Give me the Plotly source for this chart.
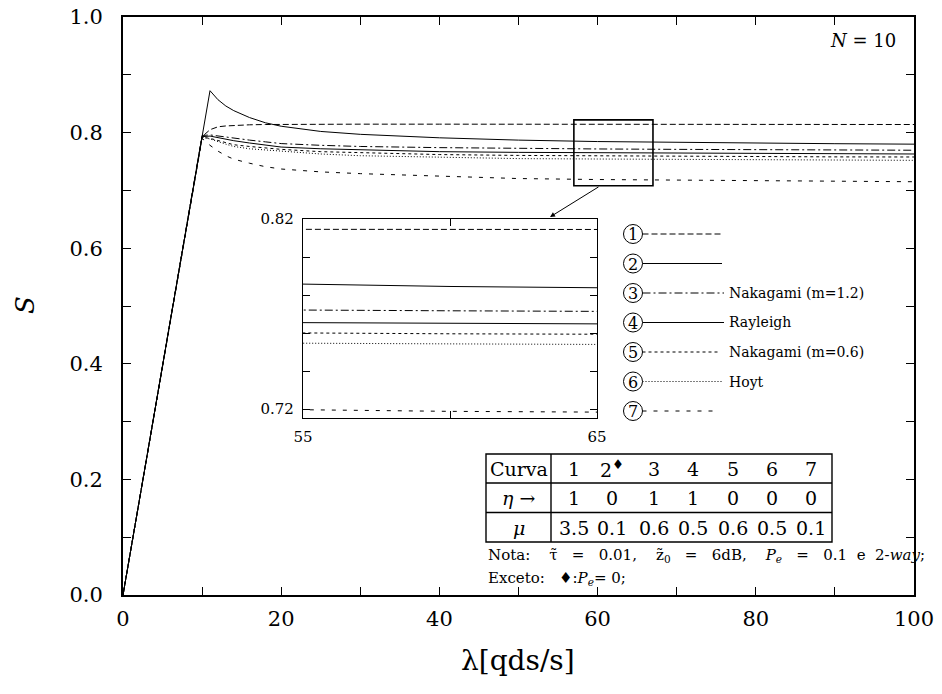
import plotly.graph_objects as go

# ---------------- data ----------------
lam = [0, 10, 11, 12, 13, 14, 16, 18, 20, 25, 30, 40, 50, 60, 70, 80, 90, 100]

s_c1 = [0, 0.793, 0.805, 0.810, 0.8115, 0.8125, 0.8135, 0.814, 0.8143, 0.8145, 0.8146, 0.8146, 0.8146, 0.8146, 0.8146, 0.8145, 0.8143, 0.814]
s_c2 = [0, 0.793, 0.8725, 0.857, 0.846, 0.838, 0.826, 0.817, 0.811, 0.802, 0.797, 0.791, 0.787, 0.7845, 0.783, 0.7818, 0.7808, 0.780]
s_c3 = [0, 0.795, 0.796, 0.794, 0.792, 0.790, 0.787, 0.784, 0.781, 0.778, 0.776, 0.774, 0.7725, 0.7717, 0.771, 0.7705, 0.770, 0.7695]
s_c4 = [0, 0.793, 0.794, 0.791, 0.788, 0.786, 0.782, 0.778, 0.775, 0.772, 0.770, 0.767, 0.7658, 0.765, 0.7645, 0.764, 0.7635, 0.763]
s_c5 = [0, 0.792, 0.790, 0.786, 0.782, 0.779, 0.776, 0.773, 0.771, 0.767, 0.765, 0.762, 0.7605, 0.7596, 0.759, 0.7585, 0.758, 0.7578]
s_c6 = [0, 0.792, 0.789, 0.784, 0.780, 0.776, 0.772, 0.770, 0.768, 0.763, 0.760, 0.757, 0.755, 0.7543, 0.7535, 0.753, 0.7525, 0.752]
s_c7 = [0, 0.790, 0.778, 0.768, 0.760, 0.754, 0.747, 0.741, 0.737, 0.732, 0.729, 0.725, 0.7205, 0.7188, 0.718, 0.717, 0.716, 0.715]

curves = [s_c1, s_c2, s_c3, s_c4, s_c5, s_c6, s_c7]
curve_ids = ["1", "2", "3", "4", "5", "6", "7"]
legend_labels = ["", "", "Nakagami (m=1.2)", "Rayleigh", "Nakagami (m=0.6)", "Hoyt", ""]

x_tick_vals = [0, 10, 20, 30, 40, 50, 60, 70, 80, 90, 100]
x_tick_text = ["0", "", "20", "", "40", "", "60", "", "80", "", "100"]
y_tick_vals = [0.0, 0.1, 0.2, 0.3, 0.4, 0.5, 0.6, 0.7, 0.8, 0.9, 1.0]
y_tick_text = ["0.0", "", "0.2", "", "0.4", "", "0.6", "", "0.8", "", "1.0"]
ix_tick_vals = [55, 60, 65]
ix_tick_text = ["55", "", "65"]
iy_tick_vals = [0.72, 0.74, 0.76, 0.78, 0.80, 0.82]
iy_tick_text = ["0.72", "", "", "", "", "0.82"]

table_header = ["Curva", "1", "2<sup>♦</sup>", "3", "4", "5", "6", "7"]
table_eta = ["<i>η</i> →", "1", "0", "1", "1", "0", "0", "0"]
table_mu = ["<i>μ</i>", "3.5", "0.1", "0.6", "0.5", "0.6", "0.5", "0.1"]

# ---------------- styles / layout helpers ----------------
dashes = ["6px,3px", "solid", "8px,3px,2px,3px", "solid", "3px,3px", "1px,2px", "4px,7px"]
SERIF = "DejaVu Serif"
L, R, T, B = 123, 914, 17, 595
W, H = 942, 694
NB = "\u00a0"


def px(xp):
    return (xp - L) / (R - L)


def py(yp):
    return (B - yp) / (B - T)


fig = go.Figure()
for ys, d in zip(curves, dashes):
    fig.add_trace(go.Scatter(x=lam, y=ys, mode="lines", line=dict(color="black", width=1, dash=d),
                             showlegend=False, hoverinfo="skip"))
for ys, d in zip(curves, dashes):
    fig.add_trace(go.Scatter(x=lam, y=ys, mode="lines", line=dict(color="black", width=1, dash=d),
                             xaxis="x2", yaxis="y2", showlegend=False, hoverinfo="skip"))

axis_common = dict(showgrid=False, zeroline=False, showline=True, linecolor="black", mirror="ticks",
                   ticks="inside", tickcolor="black", tickmode="array", automargin=False)

fig.update_layout(
    width=W, height=H,
    margin=dict(l=L, r=W - R, t=T, b=H - B, autoexpand=False),
    paper_bgcolor="white", plot_bgcolor="white", showlegend=False,
    xaxis=dict(axis_common, domain=[0, 1], range=[0, 100], tickvals=x_tick_vals, ticktext=x_tick_text,
               ticklen=8, linewidth=1.8, tickwidth=1.2, tickfont=dict(family=SERIF, size=21, color="black"),
               ticklabelstandoff=4),
    yaxis=dict(axis_common, domain=[0, 1], range=[0, 1], tickvals=y_tick_vals, ticktext=y_tick_text,
               ticklen=8, linewidth=1.8, tickwidth=1.2, tickfont=dict(family=SERIF, size=21, color="black"),
               ticklabelstandoff=14),
    xaxis2=dict(axis_common, domain=[px(303), px(597)], anchor="y2", range=[55, 65],
                tickvals=ix_tick_vals, ticktext=ix_tick_text, ticklen=7, linewidth=1.4, tickwidth=1,
                tickfont=dict(family=SERIF, size=15, color="black"), ticklabelstandoff=5),
    yaxis2=dict(axis_common, domain=[py(418), py(219)], anchor="x2", range=[0.7153, 0.82],
                tickvals=iy_tick_vals, ticktext=iy_tick_text, ticklen=7, linewidth=1.4, tickwidth=1,
                tickfont=dict(family=SERIF, size=15, color="black"), ticklabelstandoff=5),
)

shapes = []
annotations = []

# zoom rectangle on main plot
shapes.append(dict(type="rect", xref="x", yref="y", x0=57, x1=67, y0=0.708, y1=0.822,
                   line=dict(color="black", width=1.6)))
# arrow
annotations.append(dict(xref="paper", yref="paper", x=px(550), y=py(217), ax=50, ay=-31, text="",
                        showarrow=True, arrowhead=2, arrowsize=1, arrowwidth=1, arrowcolor="black"))

# legend
leg_y = [234, 263.5, 293, 322.5, 352, 381.5, 411]
leg_end = [722, 722, 724, 724, 720, 723, 716]
for i in range(7):
    cy = leg_y[i]
    shapes.append(dict(type="circle", xref="paper", yref="paper", xsizemode="pixel", ysizemode="pixel",
                       xanchor=px(633), yanchor=py(cy), x0=-9.5, x1=9.5, y0=-9.5, y1=9.5,
                       line=dict(color="black", width=1)))
    annotations.append(dict(xref="paper", yref="paper", x=px(633), y=py(cy + 0.5), text=curve_ids[i],
                            showarrow=False, font=dict(family=SERIF, size=16, color="black"),
                            xanchor="center", yanchor="middle"))
    shapes.append(dict(type="line", xref="paper", yref="paper", x0=px(642.5), x1=px(leg_end[i]),
                       y0=py(cy), y1=py(cy), line=dict(color="black", width=1, dash=dashes[i])))
    if legend_labels[i]:
        annotations.append(dict(xref="paper", yref="paper", x=px(727), y=py(cy), text=legend_labels[i],
                                showarrow=False, font=dict(family=SERIF, size=14, color="black"),
                                xanchor="left", yanchor="middle"))

# table
tl, tr_, tt, tb = 486, 832, 454, 542
row_lines = [483, 512.5]
shapes.append(dict(type="rect", xref="paper", yref="paper", x0=px(tl), x1=px(tr_), y0=py(tb), y1=py(tt),
                   line=dict(color="black", width=1.4), fillcolor="white", layer="above"))
for ry in row_lines:
    shapes.append(dict(type="line", xref="paper", yref="paper", x0=px(tl), x1=px(tr_), y0=py(ry), y1=py(ry),
                       line=dict(color="black", width=1.4)))
shapes.append(dict(type="line", xref="paper", yref="paper", x0=px(551), x1=px(551), y0=py(tb), y1=py(tt),
                   line=dict(color="black", width=1.4)))
row_centers = [468.5, 498, 527.5]
col_centers = [518.5, 573.5, 612, 653.5, 693, 732.5, 771.5, 810.5]
for r, row in enumerate([table_header, table_eta, table_mu]):
    for c, txt in enumerate(row):
        annotations.append(dict(xref="paper", yref="paper", x=px(col_centers[c]), y=py(row_centers[r]),
                                text=txt, showarrow=False, xanchor="center", yanchor="middle",
                                font=dict(family=SERIF, size=19, color="black")))

s2, s3, s4 = NB * 2, NB * 3, NB * 4
nota = ("Nota:" + s4 + "τ̃" + s3 + "=" + s3 + "0.01," + s4 + "z̃<sub>0</sub>" + s3 + "=" + s3 + "6dB," + s4
        + "<i>P<sub>e</sub></i>" + s3 + "=" + s3 + "0.1" + s2 + "e" + s2 + "2-<i>way</i>;")
annotations.append(dict(xref="paper", yref="paper", x=px(486), y=py(555), text=nota,
                        showarrow=False, xanchor="left", yanchor="middle",
                        font=dict(family=SERIF, size=15, color="black")))
annotations.append(dict(xref="paper", yref="paper", x=px(486), y=py(578),
                        text="Exceto:" + s3 + "♦:<i>P<sub>e</sub></i>=" + NB + "0;",
                        showarrow=False, xanchor="left", yanchor="middle",
                        font=dict(family=SERIF, size=15, color="black")))

# N = 10
annotations.append(dict(xref="paper", yref="paper", x=px(863), y=py(41), text="<i>N</i> = 10",
                        showarrow=False, xanchor="center", yanchor="middle",
                        font=dict(family=SERIF, size=18, color="black")))
# axis titles
annotations.append(dict(xref="paper", yref="paper", x=px(518), y=py(660), text="λ[qds/s]",
                        showarrow=False, xanchor="center", yanchor="middle",
                        font=dict(family=SERIF, size=28, color="black")))
annotations.append(dict(xref="paper", yref="paper", x=px(25), y=py(305), text="<i>S</i>", textangle=-90,
                        showarrow=False, xanchor="center", yanchor="middle",
                        font=dict(family=SERIF, size=26, color="black")))

fig.update_layout(shapes=shapes, annotations=annotations)
fig.write_html("out.html")
